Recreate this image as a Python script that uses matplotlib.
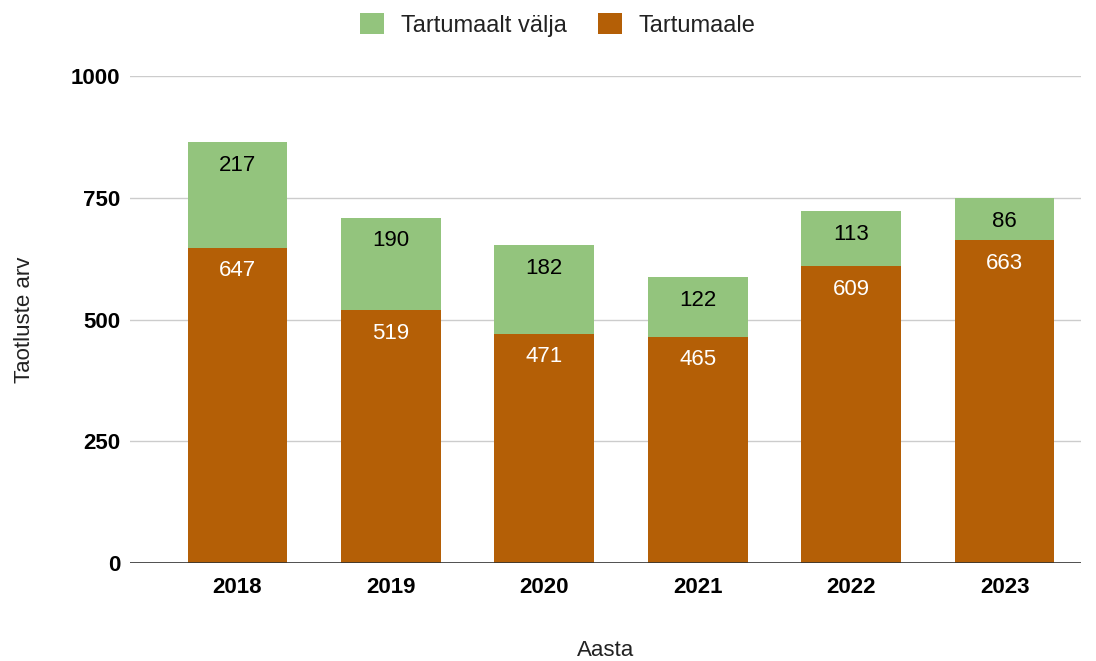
import matplotlib.pyplot as plt
import numpy as np

plt.rcParams['font.family'] = ['Liberation Sans', 'DejaVu Sans']

years = ['2018', '2019', '2020', '2021', '2022', '2023']
tartumaale = [647, 519, 471, 465, 609, 663]
valja = [217, 190, 182, 122, 113, 86]

green = '#93c47d'
brown = '#b45f06'

fig = plt.figure(figsize=(10.96, 6.61), dpi=100)
ax = fig.add_axes([0.1186, 0.148, 0.868, 0.737])

x = np.arange(len(years))
w = 0.65
b1 = ax.bar(x, tartumaale, w, color=brown, label='Tartumaale', zorder=3)
b2 = ax.bar(x, valja, w, bottom=tartumaale, color=green, label='Tartumaalt välja', zorder=3)

# labels inside bars near the top of each segment
for i in range(len(years)):
    ax.annotate(str(tartumaale[i]), (x[i], tartumaale[i]), xytext=(0, -23),
                textcoords='offset pixels', ha='center', va='center',
                color='white', fontsize=16)
    ax.annotate(str(valja[i]), (x[i], tartumaale[i] + valja[i]), xytext=(0, -23),
                textcoords='offset pixels', ha='center', va='center',
                color='black', fontsize=16)

ax.set_ylim(0, 1000)
ax.set_xlim(-0.70, 5.50)
ax.set_yticks([0, 250, 500, 750, 1000])
ax.set_xticks(x)
ax.set_xticklabels(years)
for lab in ax.get_xticklabels() + ax.get_yticklabels():
    lab.set_fontweight('bold')
    lab.set_fontsize(16)
ax.tick_params(length=0)
ax.tick_params(axis='x', pad=10)
ax.tick_params(axis='y', pad=7)
ax.grid(axis='y', color='#cccccc', linewidth=1, zorder=0)
ax.axhline(0, color='#333333', linewidth=1.2, zorder=4)
for s in ax.spines.values():
    s.set_visible(False)

ax.set_ylabel('Taotluste arv', fontsize=16, labelpad=26, color='#222222')
ax.set_xlabel('Aasta', fontsize=16, labelpad=30, color='#222222')

fig.legend([b2, b1], ['Tartumaalt välja', 'Tartumaale'], loc='center',
           bbox_to_anchor=(0.509, 1 - 25 / 661), bbox_transform=fig.transFigure,
           ncol=2, frameon=False, fontsize=17, labelcolor='#222222',
           handlelength=1.0, handleheight=1.0, columnspacing=1.35, handletextpad=0.7)

plt.savefig('out.png', dpi=100)
